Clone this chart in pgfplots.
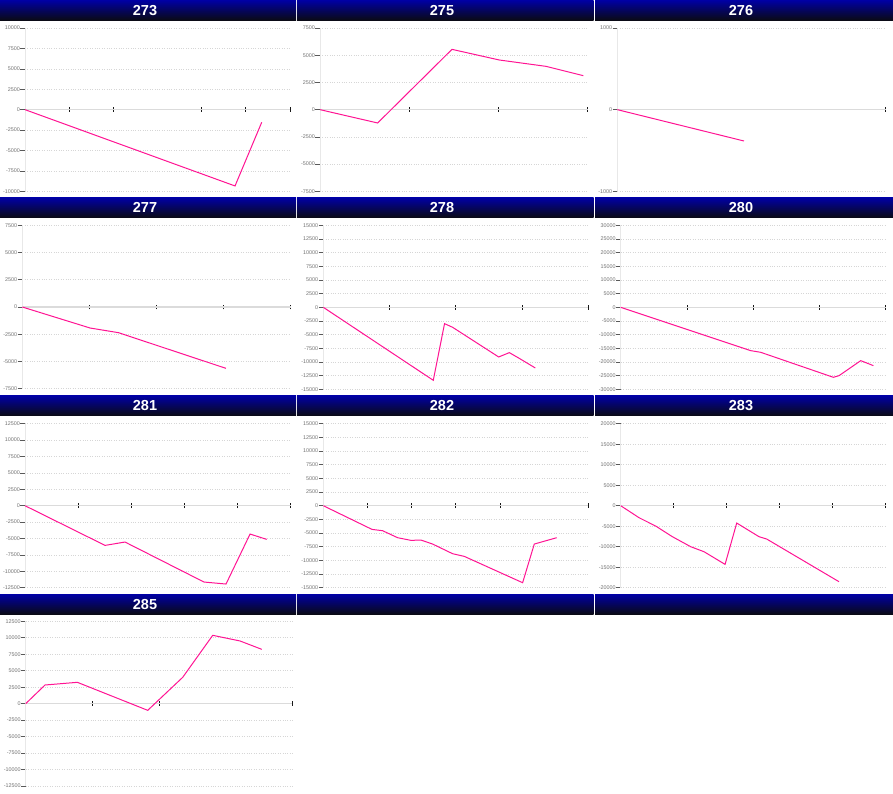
\documentclass[border=0pt]{standalone}
\usepackage{fontspec}
\setmainfont{Liberation Sans}
\usepackage{pgfplots}
\pgfplotsset{compat=1.18}
\definecolor{hdrtop}{RGB}{0,0,165}
\definecolor{hdrbot}{RGB}{10,10,22}
\definecolor{lnpink}{RGB}{255,20,147}
\pgfplotsset{
 panel/.style={
  scale only axis, anchor=north west, clip=false,
  axis x line=middle, axis y line=left,
  x axis line style={-, draw=black!14, line width=1.2pt},
  y axis line style={-, draw=black!9, line width=0.8pt},
  xmin=0, enlargelimits=false,
  xticklabels={},
  tick align=center, major tick length=4.6pt,
  x tick style={black!90, line width=0.9pt},
  y tick style={black!65, line width=0.6pt, xshift=-2.3pt},
  hide obscured x ticks=false, hide obscured y ticks=false,
  ymajorgrids, major grid style={dotted, black!16, line width=0.6pt},
  scaled y ticks=false,
  yticklabel style={font=\fontsize{5.4}{6}\selectfont, text=black!55, inner sep=0.5pt, xshift=-2.1pt},
  /pgf/number format/.cd, 1000 sep={}, assume math mode=true,
 },
 pl/.style={lnpink, line width=1pt, no marks},
}
\begin{document}
\begin{tikzpicture}
\path[use as bounding box, fill=white] (0,0) rectangle (893pt,-793pt);
% headers
\foreach \cx/\xa/\xb in {145/0/296, 442/297/593.5, 741/595/893}{
  \foreach \ty in {0,197.5,395.5,594}{
    \shade[top color=hdrtop, bottom color=hdrbot] (\xa pt,-\ty pt) rectangle (\xb pt,-\ty pt-20pt);
  }
}
\foreach \cx/\by/\t in {145/15/273, 442/15/275, 741/15/276,
                        145/212.7/277, 442/212.7/278, 741/212.7/280,
                        145/410.7/281, 442/410.7/282, 741/410.7/283,
                        145/609.3/285}{
  \node[anchor=base, inner sep=0pt, text=white, font=\bfseries\fontsize{14.5}{15}\selectfont] at (\cx pt,-\by pt) {\t};
}

% 273
\begin{axis}[panel, at={(25pt,-28pt)}, width=265pt, height=163.3pt,
  xmax=6, xtick={1,2,4,5,6}, ymin=-10000, ymax=10000, ytick={-10000,-7500,...,10000}]
\addplot[pl] coordinates {(0,0) (4.755,-9345) (5.36,-1545)};
\end{axis}
% 275
\begin{axis}[panel, at={(320pt,-28pt)}, width=267.7pt, height=163.3pt,
  xmax=3, xtick={1,2,3}, ymin=-7500, ymax=7500, ytick={-7500,-5000,...,7500}]
\addplot[pl] coordinates {(0,0) (0.646,-1224) (1.479,5539) (2.01,4560) (2.533,3978) (2.951,3121)};
\end{axis}
% 276
\begin{axis}[panel, at={(617.3pt,-28pt)}, width=268.4pt, height=163.3pt,
  xmax=1, xtick={1}, ymin=-1000, ymax=1000, ytick={-1000,0,1000}]
\addplot[pl] coordinates {(0,0) (0.472,-384)};
\end{axis}
% 277
\begin{axis}[panel, at={(22.3pt,-225.3pt)}, width=268.4pt, height=163.4pt,
  xmax=4, xtick={1,2,3,4}, ymin=-7500, ymax=7500, ytick={-7500,-5000,...,7500}]
\addplot[pl] coordinates {(0,0) (1.01,-1928) (1.433,-2356) (3.035,-5630)};
\end{axis}
% 278
\begin{axis}[panel, at={(323.3pt,-225.3pt)}, width=265pt, height=164pt,
  xmax=4, xtick={1,2,3,4}, ymin=-15000, ymax=15000, ytick={-15000,-12500,...,15000}]
\addplot[pl] coordinates {(0,0) (1.66,-13354) (1.83,-2988) (1.952,-3659) (2.647,-9085) (2.808,-8293) (2.948,-9268) (3.2,-11098)};
\end{axis}
% 280
\begin{axis}[panel, at={(620.7pt,-225.3pt)}, width=265pt, height=164pt,
  xmax=4, xtick={1,2,3,4}, ymin=-30000, ymax=30000, ytick={-30000,-25000,...,30000}]
\addplot[pl] coordinates {(0,0) (1.962,-15854) (2.113,-16463) (3.21,-25610) (3.296,-25000) (3.623,-19512) (3.814,-21341)};
\end{axis}
% 281
\begin{axis}[panel, at={(25pt,-423.7pt)}, width=265.7pt, height=164pt,
  xmax=5, xtick={1,2,3,4,5}, ymin=-12500, ymax=12500, ytick={-12500,-10000,...,12500}]
\addplot[pl] coordinates {(0,0) (1.506,-6047) (1.882,-5539) (3.369,-11636) (3.783,-11941) (4.235,-4319) (4.548,-5132)};
\end{axis}
% 282
\begin{axis}[panel, at={(323.3pt,-423.7pt)}, width=265pt, height=164pt,
  xmax=6, xtick={1,2,3,4,6}, ymin=-15000, ymax=15000, ytick={-15000,-12500,...,15000}]
\addplot[pl] coordinates {(0,0) (1.102,-4329) (1.343,-4573) (1.683,-5854) (1.985,-6341) (2.211,-6280) (2.475,-7012) (2.928,-8780) (3.192,-9268) (4.513,-14085) (4.777,-7012) (5.283,-5854)};
\end{axis}
% 283
\begin{axis}[panel, at={(620.7pt,-423.7pt)}, width=265pt, height=164pt,
  xmax=5, xtick={1,2,3,4,5}, ymin=-20000, ymax=20000, ytick={-20000,-15000,...,20000}]
\addplot[pl] coordinates {(0,0) (0.346,-2927) (0.660,-4959) (0.975,-7561) (1.321,-10000) (1.572,-11220) (1.969,-14309) (2.189,-4228) (2.61,-7561) (2.755,-8130) (4.119,-18537)};
\end{axis}
% 285
\begin{axis}[panel, at={(25.7pt,-621.3pt)}, width=266.7pt, height=164.7pt,
  xmax=4, xtick={1,2,4}, ymin=-12500, ymax=12500, ytick={-12500,-10000,...,12500}]
\addplot[pl] coordinates {(0,0) (0.29,2834) (0.775,3239) (1.83,-1012) (2.355,3998) (2.805,10374) (3.215,9514) (3.54,8249)};
\end{axis}
\end{tikzpicture}
\end{document}
